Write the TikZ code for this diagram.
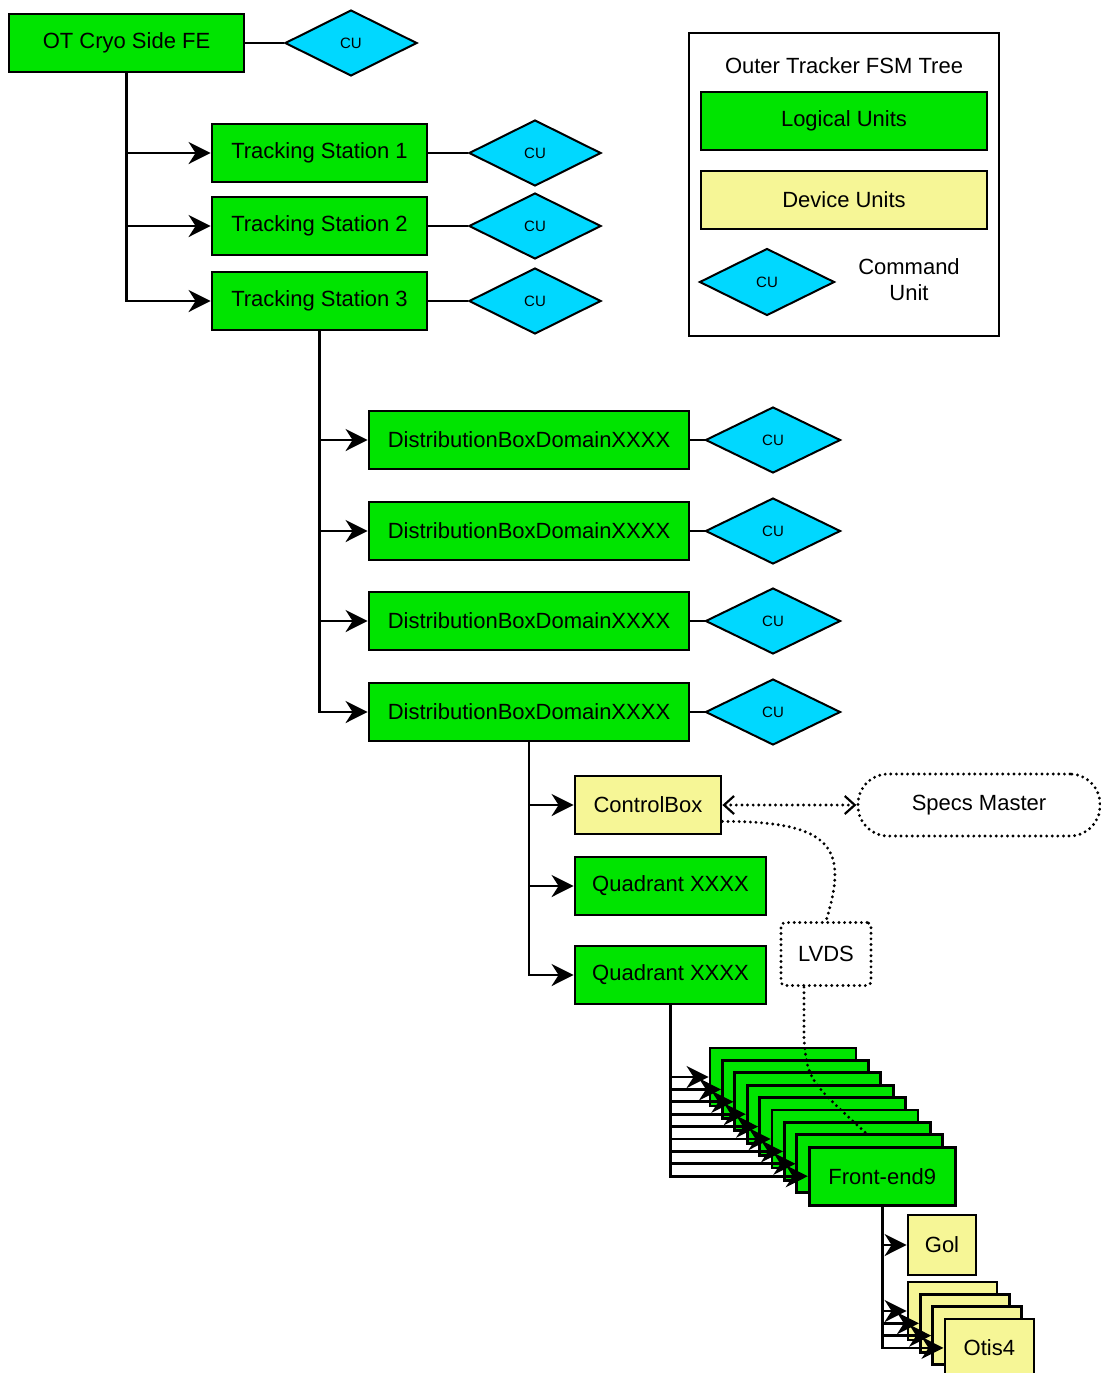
\documentclass[tikz,border=0pt]{standalone}
\usepackage{fontspec}
\setmainfont{Liberation Sans}
\usetikzlibrary{shapes.geometric,arrows.meta}

\definecolor{lugreen}{RGB}{0,228,0}
\definecolor{duyellow}{RGB}{246,246,150}
\definecolor{cucyan}{RGB}{0,216,255}

\tikzset{
  unit/.style={draw,line width=1.4pt,minimum height=29pt,inner sep=0pt,
    font=\fontsize{11}{13}\selectfont},
  lu/.style={unit,fill=lugreen},
  du/.style={unit,fill=duyellow},
  cu/.style={diamond,draw,line width=1pt,fill=cucyan,aspect=2,inner sep=0pt,
    minimum width=66pt,minimum height=33pt,font=\fontsize{7.5}{9}\selectfont},
  link/.style={line width=1.4pt},
  arr/.style={link,-{Stealth[length=11pt,width=11pt,inset=3.5pt]}},
  dots/.style={line width=1.6pt,line cap=round,dash pattern=on 0pt off 2.8pt},
  barb/.style={{Straight Barb[length=5pt,width=9pt,line width=1.1pt]}-{Straight Barb[length=5pt,width=9pt,line width=1.1pt]}},
}

\begin{document}
\begin{tikzpicture}[x=0.5pt,y=-0.5pt]
\useasboundingbox (0,0) rectangle (1100,1373);

% top of the tree
\node[lu,minimum width=117.5pt] (root) at (126.5,43) {OT Cryo Side FE};
\node[cu] (curoot) at (351,43) {CU};
\draw[link] (root) -- (curoot);

% tracking stations
\node[lu,minimum width=107.5pt] (ts1) at (319.5,153) {Tracking Station 1};
\node[lu,minimum width=107.5pt] (ts2) at (319.5,226) {Tracking Station 2};
\node[lu,minimum width=107.5pt] (ts3) at (319.5,301) {Tracking Station 3};
\foreach \t in {1,2,3} {
  \node[cu] (cuts\t) at (535,0 |- ts\t) {CU};
  \draw[link] (ts\t) -- (cuts\t);
}
\draw[arr] (root.south) |- (ts3.west);
\foreach \t in {1,2}
  \draw[arr] (root.south |- ts\t) -- (ts\t.west);

% distribution boxes
\foreach \d/\y in {1/440,2/531,3/621,4/712} {
  \node[lu,minimum width=160pt] (db\d) at (529,\y) {DistributionBoxDomainXXXX};
  \node[cu,minimum width=67.5pt] (cudb\d) at (773,\y) {CU};
  \draw[link] (db\d) -- (cudb\d);
}
\draw[arr] (ts3.south) |- (db4.west);
\foreach \d in {1,2,3}
  \draw[arr] (ts3.south |- db\d) -- (db\d.west);

% control box and quadrants
\node[du,minimum width=73pt] (cb) at (648,805) {ControlBox};
\node[lu,minimum width=95.5pt] (qd1) at (670.5,886) {Quadrant XXXX};
\node[lu,minimum width=95.5pt] (qd2) at (670.5,975) {Quadrant XXXX};
\draw[arr] (db4.south) |- (qd2.west);
\foreach \q in {cb,qd1}
  \draw[arr] (db4.south |- \q) -- (\q.west);

% specs master and LVDS
\node[draw,dots,rounded corners=15pt,minimum width=121pt,minimum height=31pt,
  font=\fontsize{11}{13}\selectfont] (specs) at (979,805) {Specs Master};
\draw[dots,barb] (cb.east) -- (specs.west);
\node[draw,dots,rounded corners=2pt,minimum width=45pt,minimum height=31.5pt,
  font=\fontsize{11}{13}\selectfont] (lvds) at (826,954) {LVDS};
\draw[dots] ([yshift=7pt]cb.south east) .. controls (835,821) and (848,850) .. (lvds.north);

% front-ends
\foreach \i in {1,...,8}
  \node[lu,minimum width=73pt] (fe\i) at ({783+12.4*(\i-1)},{1077+12.4*(\i-1)}) {};
\node[lu,minimum width=73pt] (fe9) at (882.2,1176.2) {Front-end9};
\draw[arr] (qd2.south) |- (fe9.west);
\foreach \i in {1,...,8}
  \draw[arr] (qd2.south |- fe\i) -- (fe\i.west);
\coordinate (lvdsend) at (868,1135);
\draw[dots] ([xshift=-11pt]lvds.south) -- (804,1040) .. controls (808,1080) .. (lvdsend);

% gol and otis
\node[du,minimum width=34pt,minimum height=30pt] (gol) at (942,1245) {Gol};
\foreach \i in {1,2,3}
  \node[du,minimum width=44.5pt] (otis\i) at ({952.5+12.3*(\i-1)},{1311+12.3*(\i-1)}) {};
\node[du,minimum width=44.5pt] (otis4) at (989.4,1347.9) {Otis4};
\draw[arr] (fe9.south) |- (otis4.west);
\draw[arr] (fe9.south |- gol) -- (gol.west);
\foreach \i in {1,2,3}
  \draw[arr] (fe9.south |- otis\i) -- (otis\i.west);

% legend
\node[draw,line width=1.4pt,minimum width=155pt,minimum height=151.5pt] (legend) at (844,184.5) {};
\node[font=\fontsize{11}{13}\selectfont] (legtitle) at (844,66) {Outer Tracker FSM Tree};
\node[lu,minimum width=143pt] (leglu) at (844,121) {Logical Units};
\node[du,minimum width=143pt] (legdu) at (844,200) {Device Units};
\node[cu,minimum width=67.5pt,minimum height=33.5pt] (legcu) at (767,282) {CU};
\node[align=center,font=\fontsize{11}{13}\selectfont] (legcutext) at (909,280) {Command\\Unit};
\end{tikzpicture}
\end{document}
